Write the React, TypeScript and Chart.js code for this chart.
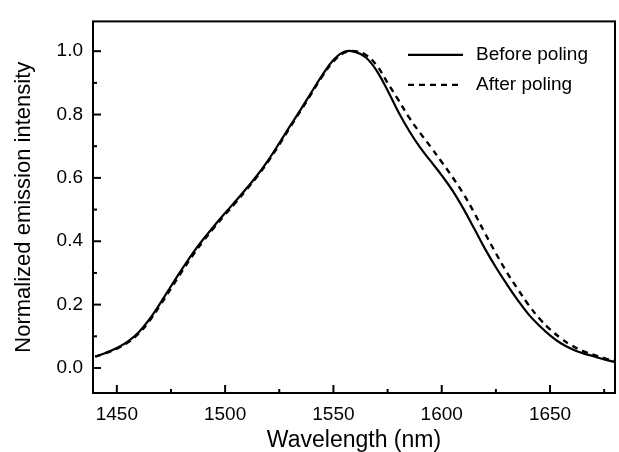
import React, { useEffect, useRef } from 'react';
import { Chart, registerables } from 'chart.js';

Chart.register(...registerables);

const wavelengths = [
  1440, 1445, 1450, 1455, 1460, 1465, 1470, 1475, 1480, 1485, 1490, 1495, 1500,
  1505, 1510, 1515, 1520, 1525, 1530, 1535, 1540, 1545, 1550, 1555, 1560, 1565,
  1570, 1575, 1580, 1585, 1590, 1595, 1600, 1605, 1610, 1615, 1620, 1625, 1630,
  1635, 1640, 1645, 1650, 1655, 1660, 1665, 1670, 1675, 1680,
];

const beforePoling = [
  0.036, 0.048, 0.063, 0.083, 0.112, 0.153, 0.204, 0.258, 0.311, 0.362, 0.407, 0.449, 0.489,
  0.528, 0.568, 0.610, 0.657, 0.710, 0.764, 0.817, 0.872, 0.926, 0.972, 0.998, 0.998, 0.980,
  0.938, 0.876, 0.808, 0.748, 0.696, 0.652, 0.608, 0.560, 0.503, 0.440, 0.376, 0.318, 0.265,
  0.215, 0.170, 0.134, 0.103, 0.078, 0.060, 0.047, 0.037, 0.027, 0.019,
];

const afterPoling = [
  0.036, 0.047, 0.061, 0.080, 0.108, 0.148, 0.198, 0.251, 0.304, 0.355, 0.401, 0.444, 0.484,
  0.523, 0.564, 0.606, 0.653, 0.705, 0.760, 0.813, 0.868, 0.922, 0.968, 0.995, 1.000, 0.988,
  0.955, 0.900, 0.846, 0.790, 0.742, 0.697, 0.650, 0.602, 0.550, 0.490, 0.425, 0.362, 0.303,
  0.250, 0.200, 0.157, 0.122, 0.094, 0.071, 0.054, 0.042, 0.031, 0.022,
];

const seriesLabels = ['Before poling', 'After poling'];
const xTickValues = [1450, 1500, 1550, 1600, 1650];
const xMinorTickValues = [1475, 1525, 1575, 1625, 1675];
const yTickValues = [0, 0.2, 0.4, 0.6, 0.8, 1.0];
const yMinorTickValues = [0.1, 0.3, 0.5, 0.7, 0.9];
const xAxisTitle = 'Wavelength (nm)';
const yAxisTitle = 'Normalized emission intensity';

const FONT = '"Liberation Sans", Arial, Helvetica, sans-serif';

const frameAndLegend = {
  id: 'frameAndLegend',
  afterDraw(chart: any) {
    const { ctx, chartArea: a, scales } = chart;
    const xs = scales.x;
    const ys = scales.y;
    ctx.save();
    ctx.strokeStyle = '#000';
    ctx.lineWidth = 2;
    ctx.setLineDash([]);
    ctx.strokeRect(a.left, a.top, a.right - a.left, a.bottom - a.top);
    const seg = (x1: number, y1: number, x2: number, y2: number) => {
      ctx.beginPath();
      ctx.moveTo(x1, y1);
      ctx.lineTo(x2, y2);
      ctx.stroke();
    };
    xTickValues.forEach((v) => {
      const p = xs.getPixelForValue(v);
      seg(p, a.bottom, p, a.bottom - 8);
    });
    xMinorTickValues.forEach((v) => {
      const p = xs.getPixelForValue(v);
      seg(p, a.bottom, p, a.bottom - 4);
    });
    yTickValues.forEach((v) => {
      const p = ys.getPixelForValue(v);
      seg(a.left, p, a.left + 8, p);
    });
    yMinorTickValues.forEach((v) => {
      const p = ys.getPixelForValue(v);
      seg(a.left, p, a.left + 4, p);
    });

    // legend
    ctx.font = `19px ${FONT}`;
    ctx.textBaseline = 'middle';
    ctx.textAlign = 'left';
    ctx.fillStyle = '#000';
    chart.data.datasets.forEach((ds: any, i: number) => {
      const y = a.top + 33.5 + i * 30;
      ctx.lineWidth = ds.borderWidth;
      ctx.setLineDash(ds.borderDash || []);
      seg(a.right - 207, y, a.right - 152, y);
      ctx.setLineDash([]);
      ctx.fillText(ds.label, a.right - 139, y);
    });
    ctx.restore();
  },
};

export default function App() {
  const ref = useRef<HTMLCanvasElement | null>(null);

  useEffect(() => {
    if (!ref.current) return;
    Chart.defaults.font.family = FONT;
    Chart.defaults.color = '#000';
    const chart = new Chart(ref.current, {
      type: 'line',
      data: {
        datasets: [
          {
            label: seriesLabels[0],
            data: wavelengths.map((x, i) => ({ x, y: beforePoling[i] })),
            borderColor: '#000',
            borderWidth: 2.2,
            pointRadius: 0,
            fill: false,
            tension: 0.4,
          },
          {
            label: seriesLabels[1],
            data: wavelengths.map((x, i) => ({ x, y: afterPoling[i] })),
            borderColor: '#000',
            borderWidth: 2.4,
            borderDash: [6, 5],
            pointRadius: 0,
            fill: false,
            tension: 0.4,
          },
        ],
      },
      options: {
        animation: false,
        responsive: false,
        devicePixelRatio: 1,
        layout: { padding: { left: 0, right: 4, top: 13, bottom: 0 } },
        plugins: {
          legend: { display: false },
          tooltip: { enabled: false },
        },
        scales: {
          x: {
            type: 'linear',
            min: 1439,
            max: 1680,
            grid: { display: false, drawTicks: false },
            border: { display: false },
            afterBuildTicks: (s: any) => {
              s.ticks = xTickValues.map((v) => ({ value: v }));
            },
            afterFit: (s: any) => {
              s.height = 59;
            },
            ticks: {
              color: '#000',
              padding: 10,
              maxRotation: 0,
              font: { size: 19, family: FONT },
              callback: (v: any) => String(v),
            },
            title: {
              display: true,
              text: xAxisTitle,
              color: '#000',
              font: { size: 23, family: FONT, lineHeight: 1 },
              padding: { top: 0, bottom: 0 },
            },
          },
          y: {
            type: 'linear',
            min: -0.079,
            max: 1.094,
            grid: { display: false, drawTicks: false },
            border: { display: false },
            afterBuildTicks: (s: any) => {
              s.ticks = yTickValues.map((v) => ({ value: v }));
            },
            afterFit: (s: any) => {
              s.width = 93;
            },
            ticks: {
              color: '#000',
              padding: 10,
              font: { size: 19, family: FONT },
              callback: (v: any) => Number(v).toFixed(1),
            },
            title: {
              display: true,
              text: yAxisTitle,
              color: '#000',
              font: { size: 22, family: FONT, lineHeight: 1 },
              padding: { top: 12.5, bottom: 0 },
            },
          },
        },
      },
      plugins: [frameAndLegend],
    });
    return () => chart.destroy();
  }, []);

  return (
    <div style={{ position: 'fixed', left: 0, top: 0, width: 619, height: 452, background: '#fff' }}>
      <canvas ref={ref} width={619} height={452} style={{ display: 'block', width: 619, height: 452 }} />
    </div>
  );
}
